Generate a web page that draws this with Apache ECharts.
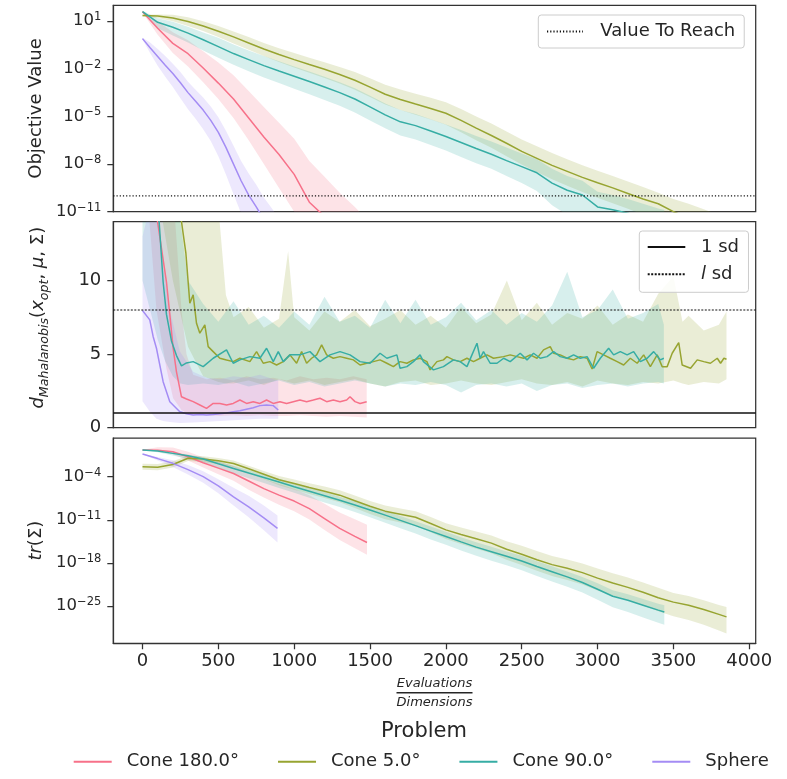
<!DOCTYPE html>
<html><head><meta charset="utf-8">
<script src="https://cdn.jsdelivr.net/npm/echarts@6/dist/echarts.min.js"></script>
<style>html,body{margin:0;padding:0;background:#fff}#c{width:787px;height:779px}</style>
</head><body><div id="c"></div>
<script>
// ---------- categories / ticks ----------
const PROBLEMS = ['Cone 180.0°', 'Cone 5.0°', 'Cone 90.0°', 'Sphere'];
const X_MIN = -192.5, X_MAX = 4042.5;
const X_TICKS = [0, 500, 1000, 1500, 2000, 2500, 3000, 3500, 4000];
const OBJ_TICKS_LOG10 = [-11, -8, -5, -2, 1];
const MAH_TICKS = [0, 5, 10];
const TR_TICKS_LOG10 = [-25, -18, -11, -4];
const VALUE_TO_REACH_LOG10 = -10;
const SD_ONE = 1;
const SD_L = 8;

// ---------- panel 1: objective value (log10) ----------
const objSphereX = [0,50,100,150,200,250,300,350,400,450,500,550,600,650,700,750,800,850,890];
const objSphereMean = [-0.1,-0.68,-1.22,-1.77,-2.3,-2.88,-3.5,-4.05,-4.6,-5.25,-6.0,-6.95,-8.0,-9.05,-9.95,-10.7,-11.5,-12.2,-12.8];
const objSphereHi = [-0.05,-0.35,-0.75,-1.2,-1.68,-2.2,-2.82,-3.32,-3.8,-4.38,-5.05,-5.9,-6.85,-7.8,-8.6,-9.3,-10.1,-10.75,-11.3];
const objSphereLo = [-0.15,-1.0,-1.8,-2.5,-3.15,-3.85,-4.55,-5.15,-5.8,-6.55,-7.5,-8.65,-9.9,-11.1,-12.25,-13.1,-14.0,-14.7,-15.3];

const objC180X = [0,100,200,300,400,500,600,700,800,900,1000,1100,1200,1300,1400,1480];
const objC180Mean = [1.6,0.55,-0.4,-1.05,-1.95,-2.9,-3.9,-5.1,-6.3,-7.4,-8.65,-10.4,-11.3,-12.3,-13.2,-14.0];
const objC180Hi = [1.65,1.0,0.3,-0.2,-0.9,-1.6,-2.4,-3.4,-4.4,-5.4,-6.4,-7.8,-8.8,-9.8,-10.7,-11.5];
const objC180Lo = [1.55,0.15,-1.0,-1.85,-2.85,-3.9,-5.1,-6.5,-8.0,-9.5,-11.0,-13.0,-14.1,-15.3,-16.2,-17.0];

const objC90X = [0,100,200,300,400,500,600,700,800,900,1000,1100,1200,1300,1400,1500,1600,1700,1800,1900,2000,2100,2200,2300,2400,2500,2600,2700,2800,2900,3000,3100,3200,3300,3400,3440];
const objC90Mean = [1.6,0.93,0.62,0.25,-0.17,-0.6,-1.04,-1.42,-1.8,-2.14,-2.47,-2.8,-3.15,-3.5,-3.9,-4.4,-4.9,-5.34,-5.58,-5.92,-6.26,-6.64,-7.02,-7.38,-7.78,-8.16,-8.55,-9.2,-9.65,-9.95,-10.7,-10.88,-11.1,-11.4,-11.7,-11.8];
const objC90Hi = [1.65,1.18,0.97,0.65,0.28,-0.05,-0.47,-0.84,-1.2,-1.53,-1.85,-2.17,-2.5,-2.84,-3.22,-3.7,-4.18,-4.6,-4.85,-5.17,-5.5,-5.86,-6.23,-6.58,-6.96,-7.33,-7.7,-8.3,-8.75,-9.05,-9.75,-9.95,-10.2,-10.5,-10.8,-10.9];
const objC90Lo = [1.55,0.55,0.1,-0.35,-0.85,-1.3,-1.75,-2.15,-2.55,-2.9,-3.25,-3.6,-3.97,-4.33,-4.75,-5.25,-5.75,-6.2,-6.45,-6.8,-7.15,-7.55,-7.95,-8.3,-8.75,-9.2,-9.7,-10.6,-11.2,-11.6,-12.4,-12.6,-12.8,-13.1,-13.4,-13.5];

const objC5X = [0,100,200,300,400,500,600,700,800,900,1000,1100,1200,1300,1400,1500,1600,1700,1800,1900,2000,2100,2200,2300,2400,2500,2600,2700,2800,2900,3000,3100,3200,3300,3400,3500,3600,3700,3800,3850];
const objC5Mean = [1.35,1.32,1.2,0.98,0.7,0.37,0.01,-0.37,-0.75,-1.1,-1.42,-1.73,-2.03,-2.36,-2.72,-3.15,-3.6,-3.93,-4.22,-4.5,-4.8,-5.25,-5.74,-6.2,-6.69,-7.2,-7.64,-8.08,-8.46,-8.84,-9.18,-9.5,-9.85,-10.2,-10.5,-11.0,-11.4,-11.8,-12.2,-12.4];
const objC5Hi = [1.4,1.42,1.4,1.25,1.0,0.7,0.35,0.0,-0.37,-0.7,-1.0,-1.3,-1.58,-1.88,-2.2,-2.6,-3.0,-3.3,-3.57,-3.83,-4.1,-4.53,-5.0,-5.45,-5.95,-6.45,-6.88,-7.3,-7.7,-8.08,-8.42,-8.75,-9.1,-9.45,-9.8,-10.2,-10.5,-10.85,-11.2,-11.4];
const objC5Lo = [1.3,1.2,1.0,0.7,0.38,0.0,-0.4,-0.8,-1.2,-1.57,-1.92,-2.25,-2.58,-2.93,-3.32,-3.77,-4.25,-4.6,-4.9,-5.2,-5.52,-6.0,-6.5,-6.98,-7.5,-8.03,-8.5,-8.96,-9.36,-9.76,-10.12,-10.46,-10.82,-11.18,-11.5,-12.0,-12.4,-12.8,-13.2,-13.4];

// ---------- panel 2: Mahalanobis distance ----------
const mahC180X = [0,50,92,158,180,202,224,257,290,334,378,422,466,510,554,598,642,686,730,774,818,862,906,950,994,1038,1082,1126,1170,1214,1258,1302,1346,1368,1401,1434,1478];
const mahC180 = [35,24,14.5,9.9,7.7,5.4,3.8,2.1,1.95,1.77,1.54,1.31,1.65,1.65,1.54,1.65,1.88,1.65,1.77,1.65,1.88,1.65,1.77,1.65,1.77,1.88,1.77,1.88,2.0,1.77,1.88,1.77,1.88,2.1,1.77,1.65,1.77];
const mahC180BandX = [0,92,158,202,257,290,334,422,510,598,686,774,862,950,1038,1126,1214,1302,1390,1478];
const mahC180Hi = [40,35,25,16,8,5,3.6,3.3,3.4,3.2,3.5,3.3,3.4,3.2,3.5,3.3,3.4,3.3,3.5,3.3];
const mahC180Lo = [20,8,4,2,1.2,1.0,0.9,0.85,0.8,0.85,0.8,0.85,0.8,0.8,0.85,0.8,0.75,0.8,0.75,0.7];

const mahC5X = [0,100,200,257,286,312,334,356,378,411,433,466,510,554,598,642,708,752,796,840,884,928,972,1016,1049,1082,1115,1148,1181,1214,1258,1302,1346,1390,1434,1478,1522,1566,1611,1654,1698,1743,1786,1830,1875,1896,1941,1984,2007,2050,2094,2139,2182,2226,2271,2314,2380,2424,2469,2512,2556,2601,2644,2688,2710,2754,2799,2842,2886,2931,2964,2997,3040,3084,3129,3172,3216,3261,3304,3348,3393,3426,3459,3492,3535,3558,3613,3657,3700,3744,3789,3811,3833,3850];
const mahC5 = [40,30,20,14.0,11.86,8.46,9.03,7.1,6.42,6.99,5.51,5.17,4.72,4.6,4.49,4.72,4.49,5.17,4.38,4.49,4.26,4.49,4.95,4.38,5.17,4.38,4.72,4.95,5.63,4.95,4.72,4.83,4.72,4.61,4.26,4.38,4.49,4.61,4.38,4.15,4.49,4.38,4.61,4.72,4.49,3.93,4.49,4.61,4.83,4.61,4.49,4.72,4.49,4.72,4.95,4.72,4.83,4.95,4.83,4.72,4.95,4.72,5.29,5.51,5.06,4.95,4.72,4.61,4.83,4.72,3.99,5.17,4.95,4.72,4.49,4.26,4.72,4.38,4.95,4.15,4.95,4.15,4.15,5.06,5.78,4.26,4.04,4.61,4.49,4.38,4.72,4.38,4.72,4.65];
const mahC5BandX = [0,100,200,300,400,500,550,600,700,800,900,960,1000,1100,1200,1300,1400,1500,1600,1700,1800,1900,2000,2100,2200,2300,2402,2500,2600,2700,2800,2900,3000,3100,3200,3300,3400,3500,3560,3600,3700,3800,3850];
const mahC5Hi = [50,45,40,30,22,15,9,7.5,8.2,6.8,7.4,12.0,7.5,6.6,7.9,7.2,8.0,6.9,7.4,8.0,7.0,7.6,6.8,8.2,7.1,7.7,10.0,7.3,8.5,7.0,7.8,7.4,8.3,7.0,7.7,7.2,9.1,10.3,7.2,7.6,6.6,7.0,7.9];
const mahC5Lo = [20,16,10,5.5,3.5,3.1,3.0,3.0,3.2,2.9,3.3,3.1,3.0,3.2,2.9,3.1,3.3,3.0,2.8,3.1,3.2,2.9,3.0,3.2,3.0,2.9,3.1,3.3,3.0,2.9,3.1,2.8,3.2,3.0,2.9,3.1,3.0,3.2,3.0,2.9,3.1,3.0,3.3];

const mahC90X = [0,50,100,136,158,191,224,257,290,334,400,466,554,598,642,708,774,818,862,895,928,972,1038,1104,1170,1236,1302,1368,1434,1500,1566,1611,1677,1698,1743,1786,1830,1852,1918,1984,2050,2094,2139,2172,2205,2226,2248,2292,2337,2381,2424,2490,2535,2578,2622,2667,2710,2754,2799,2842,2886,2931,2974,3018,3073,3106,3150,3195,3238,3282,3327,3370,3414,3437];
const mahC90 = [30,22,15.5,9.9,7.7,5.9,4.9,4.2,4.4,4.49,4.15,4.72,5.29,4.38,4.61,4.83,4.72,5.40,4.49,5.17,4.49,4.95,4.95,5.17,4.49,4.95,5.17,4.95,4.49,4.38,5.06,4.72,4.95,4.04,4.15,4.49,4.95,4.49,3.93,4.15,4.61,4.49,4.15,4.95,5.74,4.72,5.17,4.38,4.38,4.72,4.49,5.06,4.61,5.06,4.72,4.83,5.17,4.83,4.72,4.95,4.72,4.83,4.04,4.72,5.40,4.95,5.17,4.95,5.17,4.49,4.72,5.17,4.61,4.72];
const mahC90BandX = [0,50,100,150,200,250,300,400,500,600,700,800,900,1000,1100,1200,1300,1400,1500,1600,1700,1800,1900,2000,2100,2200,2300,2400,2500,2600,2700,2800,2900,3000,3100,3200,3300,3400,3437];
const mahC90Hi = [45,40,35,25,18,14,10,8.4,7.2,8.6,7.0,7.6,6.8,7.9,7.0,8.9,7.2,7.6,6.8,8.7,7.1,8.7,7.0,7.5,8.5,7.3,8.0,7.0,7.8,7.2,8.3,10.6,7.5,8.0,9.4,7.4,7.8,8.4,7.0];
const mahC90Lo = [10,8,6,4.5,3.5,3.0,2.9,3.0,2.9,3.1,2.8,3.0,3.2,2.9,3.1,2.8,3.0,3.2,3.0,2.8,3.0,2.9,3.1,2.9,2.4,2.9,3.0,2.8,3.0,2.5,2.9,3.0,2.7,2.9,3.0,2.8,3.0,3.1,3.0];

const mahSphereX = [0,48,70,92,136,180,246,290,334,378,422,466,510,554,598,642,686,730,774,818,862,895];
const mahSphere = [7.96,7.33,6.2,5.4,3.13,1.77,1.09,0.95,0.86,0.9,0.86,0.9,0.95,1.0,1.09,1.15,1.25,1.35,1.5,1.55,1.5,1.2];
const mahSphereBandX = [0,48,92,136,180,246,334,422,510,598,686,774,862,895];
const mahSphereHi = [13,15,14.5,11,8,5.2,3.8,3.4,3.3,3.5,3.4,3.6,3.3,3.2];
const mahSphereLo = [1.8,1.1,0.6,0.45,0.38,0.32,0.35,0.4,0.45,0.5,0.55,0.6,0.6,0.6];

// ---------- panel 3: trace of covariance (log10) ----------
const trSphereX = [0,100,200,300,400,500,600,700,800,890];
const trSphereMean = [-0.3,-1.05,-1.82,-2.85,-3.98,-5.5,-7.28,-8.9,-10.7,-12.4];
const trSphereHi = [-0.25,-0.8,-1.3,-2.1,-3.1,-4.4,-5.8,-7.1,-8.7,-10.3];
const trSphereLo = [-0.35,-1.35,-2.4,-3.65,-4.98,-6.7,-8.68,-10.6,-12.7,-14.7];

const trC180X = [0,100,200,300,400,500,600,700,800,900,1000,1100,1200,1300,1400,1480];
const trC180Mean = [0.35,0.3,0.07,-0.75,-1.73,-2.6,-3.47,-4.7,-5.94,-7.0,-7.96,-9.2,-10.8,-12.4,-13.7,-14.7];
const trC180Hi = [0.4,0.8,0.75,0.05,-0.85,-1.55,-2.25,-3.3,-4.35,-5.2,-6.0,-7.0,-8.4,-9.8,-10.9,-11.8];
const trC180Lo = [0.3,0.1,-0.35,-1.35,-2.5,-3.6,-4.65,-6.1,-7.4,-8.55,-9.6,-10.95,-12.65,-14.3,-15.65,-16.7];

const trC90X = [0,100,200,300,400,500,600,700,800,900,1000,1100,1200,1300,1400,1500,1600,1700,1800,1900,2000,2100,2200,2300,2400,2500,2600,2700,2800,2900,3000,3100,3200,3300,3400,3440];
const trC90Mean = [0.35,0.2,-0.2,-0.6,-1.12,-1.9,-2.65,-3.4,-4.13,-4.87,-5.62,-6.36,-7.1,-7.84,-8.6,-9.4,-10.25,-11.1,-11.95,-12.85,-13.72,-14.6,-15.45,-16.2,-16.95,-17.7,-18.6,-19.45,-20.3,-21.2,-22.3,-23.45,-24.1,-24.9,-25.7,-26.0];
const trC90Hi = [0.4,0.3,-0.05,-0.4,-0.82,-1.5,-2.2,-2.9,-3.63,-4.32,-5.07,-5.76,-6.5,-7.24,-7.95,-8.75,-9.55,-10.4,-11.25,-12.1,-12.97,-13.85,-14.65,-15.4,-16.15,-16.85,-17.75,-18.55,-19.4,-20.3,-21.35,-22.45,-23.1,-23.9,-24.65,-24.9];
const trC90Lo = [0.3,0.0,-0.55,-1.1,-1.72,-2.6,-3.45,-4.25,-5.03,-5.82,-6.62,-7.41,-8.2,-8.94,-9.75,-10.6,-11.5,-12.4,-13.25,-14.2,-15.07,-16.0,-16.85,-17.65,-18.4,-19.2,-20.15,-21.05,-21.9,-22.85,-24.0,-25.25,-26.0,-26.9,-27.75,-28.1];

const trC5X = [0,100,200,300,400,500,600,700,800,900,1000,1100,1200,1300,1400,1500,1600,1700,1800,1900,2000,2100,2200,2300,2400,2500,2600,2700,2800,2900,3000,3100,3200,3300,3400,3500,3600,3700,3800,3850];
const trC5Mean = [-2.37,-2.45,-2.0,-1.0,-1.1,-1.4,-1.85,-2.7,-3.6,-4.5,-5.1,-5.75,-6.35,-7.0,-7.9,-8.8,-9.6,-10.1,-10.6,-11.6,-12.65,-13.4,-14.1,-14.8,-15.8,-16.6,-17.5,-18.3,-18.9,-19.6,-20.5,-21.3,-22.0,-22.8,-23.7,-24.4,-24.9,-25.6,-26.4,-26.8];
const trC5Hi = [-1.87,-1.95,-1.5,-0.6,-0.65,-0.95,-1.35,-2.2,-3.05,-3.9,-4.45,-5.05,-5.6,-6.2,-7.05,-7.95,-8.7,-9.15,-9.6,-10.55,-11.55,-12.25,-12.9,-13.55,-14.5,-15.25,-16.1,-16.9,-17.45,-18.1,-18.95,-19.7,-20.4,-21.2,-22.05,-22.9,-23.4,-24.1,-24.85,-25.2];
const trC5Lo = [-2.87,-2.95,-2.5,-1.45,-1.6,-1.95,-2.45,-3.4,-4.4,-5.4,-6.1,-6.8,-7.45,-8.15,-9.1,-10.05,-10.9,-11.45,-12.0,-13.05,-14.15,-14.95,-15.7,-16.45,-17.5,-18.35,-19.3,-20.15,-20.8,-21.55,-22.5,-23.35,-24.1,-24.95,-25.9,-26.7,-27.3,-28.1,-29.0,-29.5];

// ---------- styling ----------
const FONT = 'DejaVu Sans';
const TEXT = '#262626';
const SPINE = '#333333';
const COLORS = ['#f77189', '#97a431', '#36ada4', '#a48cf4'];
const BAND_COLORS = ['rgba(247,113,137,0.2)', 'rgba(151,164,49,0.2)', 'rgba(54,173,164,0.2)', 'rgba(164,140,244,0.2)'];

function lineSeries(panel, k, xs, ys) {
  return {
    type: 'line', name: PROBLEMS[k], xAxisIndex: panel, yAxisIndex: panel,
    data: xs.map((x, i) => [x, ys[i]]), symbol: 'none', showSymbol: false,
    lineStyle: { color: COLORS[k], width: 1.5 }, itemStyle: { color: COLORS[k] },
    clip: true, z: 3, silent: true
  };
}
function bandSeries(panel, k, xs, lo, hi) {
  return {
    type: 'custom', xAxisIndex: panel, yAxisIndex: panel, clip: true, silent: true, z: 2,
    data: xs.map((x, i) => [x, lo[i], hi[i]]),
    encode: { x: 0, y: 1 },
    renderItem: (params, api) => {
      if (params.dataIndex !== 0) return null;
      const top = xs.map((x, i) => api.coord([x, hi[i]]));
      const bot = xs.map((x, i) => api.coord([x, lo[i]])).reverse();
      return { type: 'polygon', shape: { points: top.concat(bot) }, style: { fill: BAND_COLORS[k] } };
    }
  };
}
function refLine(panel, name, y, dash, width) {
  return {
    type: 'line', name: name, xAxisIndex: panel, yAxisIndex: panel,
    data: [[X_MIN, y], [X_MAX, y]], symbol: 'none', showSymbol: false, silent: true, z: 4,
    lineStyle: { color: '#111', width: width, type: dash }, itemStyle: { color: '#111' }
  };
}

const logLabel = v => '{b|10}{s|' + (v < 0 ? '\u2212' : '') + Math.abs(v) + '}';
const logRich = {
  b: { fontSize: 16.5, lineHeight: 20, color: TEXT, fontFamily: FONT },
  s: { fontSize: 11.5, lineHeight: 12, verticalAlign: 'top', color: TEXT, fontFamily: FONT }
};

const grids = [
  { left: 113.3, width: 642.4, top: 5.3, height: 206.4 },
  { left: 113.3, width: 642.4, top: 221.7, height: 206 },
  { left: 113.3, width: 642.4, top: 438, height: 205.3 }
].map(g => Object.assign(g, { show: true, borderColor: SPINE, borderWidth: 1.25 }));

function xAxis(i) {
  const bottom = i === 2;
  return {
    type: 'value', gridIndex: i, min: X_MIN, max: X_MAX, splitLine: { show: false },
    axisLine: { show: bottom, onZero: false, lineStyle: { color: SPINE, width: 1.25 } },
    axisTick: { show: bottom, length: 6, lineStyle: { color: SPINE, width: 1.25 }, customValues: X_TICKS },
    axisLabel: { show: bottom, customValues: X_TICKS, formatter: v => String(v), fontSize: 18, color: TEXT, fontFamily: FONT, margin: 9 },
    name: bottom ? '{n|Evaluations}\n{l| }\n{n|Dimensions}' : '',
    nameLocation: 'middle', nameGap: 33,
    nameTextStyle: {
      rich: {
        n: { fontSize: 13, fontStyle: 'italic', fontFamily: FONT, color: TEXT, lineHeight: 14 },
        l: { width: 76, height: 1.5, lineHeight: 5, fontSize: 1, backgroundColor: TEXT }
      }
    }
  };
}
function yAxisCommon(i, ticks, min, max) {
  return {
    type: 'value', gridIndex: i, min: min, max: max, splitLine: { show: false },
    axisLine: { show: true, onZero: false, lineStyle: { color: SPINE, width: 1.25 } },
    axisTick: { show: true, length: 6, lineStyle: { color: SPINE, width: 1.25 }, customValues: ticks },
    nameLocation: 'middle', nameRotate: 90
  };
}

const yAxes = [
  Object.assign(yAxisCommon(0, OBJ_TICKS_LOG10, -11, 2), {
    axisLabel: { customValues: OBJ_TICKS_LOG10, formatter: logLabel, rich: logRich, margin: 12 },
    name: 'Objective Value', nameGap: 68,
    nameTextStyle: { fontSize: 18, color: TEXT, fontFamily: FONT }
  }),
  Object.assign(yAxisCommon(1, MAH_TICKS, 0, 14), {
    axisLabel: { customValues: MAH_TICKS, fontSize: 18, color: TEXT, fontFamily: FONT, margin: 12 },
    name: '{m|d}{sb|Mahalanobis}{r|(}{m|x}{sb|opt}{r|, }{m|μ}{r|, Σ)}', nameGap: 62,
    nameTextStyle: {
      padding: [0, 0, 0, 14],
      rich: {
        m: { fontSize: 18, fontStyle: 'italic', color: TEXT, fontFamily: FONT, lineHeight: 26 },
        r: { fontSize: 18, color: TEXT, fontFamily: FONT, lineHeight: 26 },
        sb: { fontSize: 12.6, fontStyle: 'italic', color: TEXT, fontFamily: FONT, lineHeight: 15, verticalAlign: 'bottom' }
      }
    }
  }),
  Object.assign(yAxisCommon(2, TR_TICKS_LOG10, -31.1, 2.3), {
    axisLabel: { customValues: TR_TICKS_LOG10, formatter: logLabel, rich: logRich, margin: 12 },
    name: '{m|tr}{r|(Σ)}', nameGap: 66,
    nameTextStyle: {
      rich: {
        m: { fontSize: 18, fontStyle: 'italic', color: TEXT, fontFamily: FONT },
        r: { fontSize: 18, color: TEXT, fontFamily: FONT }
      }
    }
  })
];

const series = [
  bandSeries(0, 0, objC180X, objC180Lo, objC180Hi),
  bandSeries(0, 1, objC5X, objC5Lo, objC5Hi),
  bandSeries(0, 2, objC90X, objC90Lo, objC90Hi),
  bandSeries(0, 3, objSphereX, objSphereLo, objSphereHi),
  lineSeries(0, 0, objC180X, objC180Mean),
  lineSeries(0, 1, objC5X, objC5Mean),
  lineSeries(0, 2, objC90X, objC90Mean),
  lineSeries(0, 3, objSphereX, objSphereMean),
  refLine(0, 'Value To Reach', VALUE_TO_REACH_LOG10, [1.2, 2], 1.2),
  bandSeries(1, 0, mahC180BandX, mahC180Lo, mahC180Hi),
  bandSeries(1, 1, mahC5BandX, mahC5Lo, mahC5Hi),
  bandSeries(1, 2, mahC90BandX, mahC90Lo, mahC90Hi),
  bandSeries(1, 3, mahSphereBandX, mahSphereLo, mahSphereHi),
  lineSeries(1, 0, mahC180X, mahC180),
  lineSeries(1, 1, mahC5X, mahC5),
  lineSeries(1, 2, mahC90X, mahC90),
  lineSeries(1, 3, mahSphereX, mahSphere),
  refLine(1, '1 sd', SD_ONE, 'solid', 1.5),
  refLine(1, 'l sd', SD_L, [2, 1.5], 1.2),
  bandSeries(2, 0, trC180X, trC180Lo, trC180Hi),
  bandSeries(2, 1, trC5X, trC5Lo, trC5Hi),
  bandSeries(2, 2, trC90X, trC90Lo, trC90Hi),
  bandSeries(2, 3, trSphereX, trSphereLo, trSphereHi),
  lineSeries(2, 0, trC180X, trC180Mean),
  lineSeries(2, 1, trC5X, trC5Mean),
  lineSeries(2, 2, trC90X, trC90Mean),
  lineSeries(2, 3, trSphereX, trSphereMean)
];

const hiddenSymbol = { color: 'rgba(0,0,0,0)', borderWidth: 0, opacity: 0 };

const chart = echarts.init(document.getElementById('c'));
chart.setOption({
  animation: false,
  backgroundColor: '#ffffff',
  textStyle: { fontFamily: FONT, color: TEXT },
  title: {
    text: 'Problem', left: 424, top: 721, textAlign: 'center', padding: 0,
    textStyle: { fontSize: 21, fontWeight: 'normal', color: TEXT, fontFamily: FONT }
  },
  grid: grids,
  xAxis: [0, 1, 2].map(xAxis),
  yAxis: yAxes,
  legend: [
    {
      data: PROBLEMS, orient: 'horizontal', left: 72.7, top: 750.7, padding: 0,
      itemWidth: 38, itemHeight: 14, itemGap: 38, selectedMode: false, itemStyle: hiddenSymbol,
      textStyle: { fontSize: 18, color: TEXT, fontFamily: FONT, padding: [0, 0, 0, 10], lineHeight: 22 }
    },
    {
      data: ['Value To Reach'], orient: 'horizontal', left: 538.3, top: 15,
      padding: [6.5, 9, 6.5, 7.7], itemWidth: 36, itemHeight: 14, selectedMode: false, itemStyle: hiddenSymbol,
      backgroundColor: 'rgba(255,255,255,0.85)', borderColor: '#cccccc', borderWidth: 1, borderRadius: 3,
      textStyle: { fontSize: 18, color: TEXT, fontFamily: FONT, padding: [0, 0, 0, 12.3], lineHeight: 20 }
    },
    {
      data: ['1 sd', 'l sd'], orient: 'vertical', left: 639.3, top: 231,
      padding: [6, 9.5, 8, 7.4], itemWidth: 37.6, itemHeight: 14, itemGap: 7.3, selectedMode: false, itemStyle: hiddenSymbol,
      backgroundColor: 'rgba(255,255,255,0.85)', borderColor: '#cccccc', borderWidth: 1, borderRadius: 3,
      formatter: name => name === 'l sd' ? '{i|l} sd' : name,
      textStyle: {
        fontSize: 18, color: TEXT, fontFamily: FONT, padding: [0, 0, 0, 10.7], lineHeight: 20,
        rich: { i: { fontStyle: 'italic', fontSize: 18, fontFamily: FONT, color: TEXT, lineHeight: 20 } }
      }
    }
  ],
  series: series
});
</script></body></html>
